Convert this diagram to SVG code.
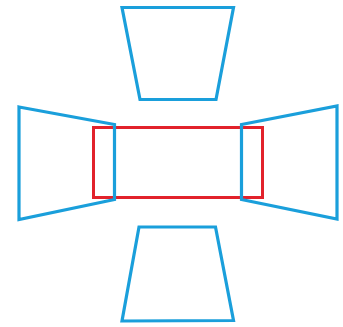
<svg xmlns="http://www.w3.org/2000/svg" width="343" height="327" viewBox="0 0 343 327">
<style>
.b{fill:none;stroke:#1a9fdb;stroke-width:3.2;stroke-linejoin:miter}
.r{fill:none;stroke:#e2222b;stroke-width:3}
</style>
<rect width="343" height="327" fill="#fff"/>
<g id="center"><rect class="r" x="93.5" y="127.5" width="169" height="70"/></g>
<g id="top"><polygon class="b" points="122,7.5 233.5,7.5 216,99.5 140,99.5"/></g>
<g id="left"><polygon class="b" points="19,107 114.5,124.5 114.5,199.5 19,219.5"/></g>
<g id="right"><polygon class="b" points="241.5,124.5 337,106 337,219 241.5,199.5"/></g>
<g id="bottom"><polygon class="b" points="139,227 215.5,227 233.5,320.5 122,321"/></g>
</svg>
